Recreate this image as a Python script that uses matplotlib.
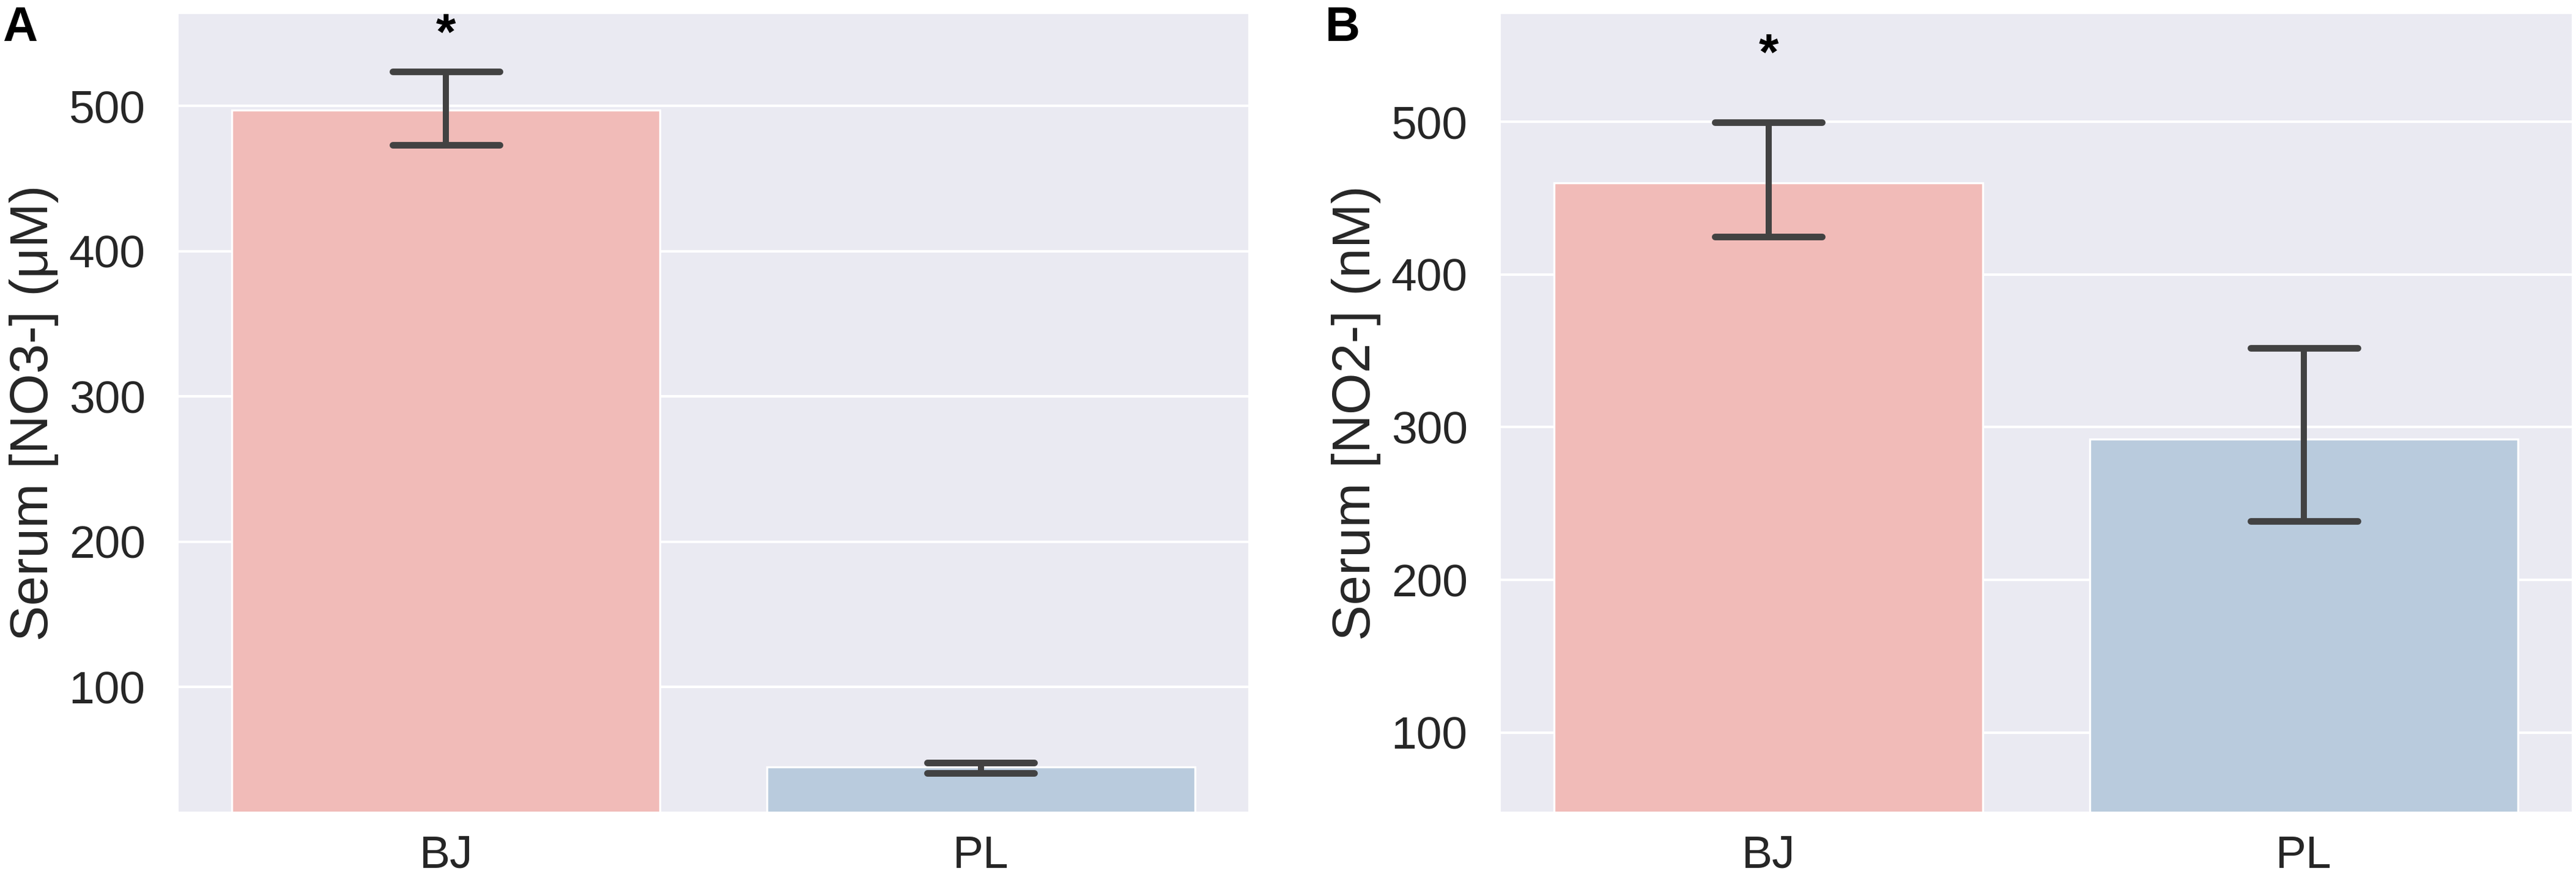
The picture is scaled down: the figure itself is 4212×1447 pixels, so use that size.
import matplotlib
matplotlib.use("Agg")
import matplotlib.pyplot as plt
import numpy as np

# data
groups = ["BJ", "PL"]

no3_mean = [497, 45]
no3_low = [473, 40.7]
no3_high = [523.5, 47.8]

no2_mean = [460, 292]
no2_low = [424.7, 238.7]
no2_high = [499.6, 351.7]

ylabels = ["Serum [NO3-] (\u03bcM)", "Serum [NO2-] (nM)"]
yticks_list = [[100, 200, 300, 400, 500], [100, 200, 300, 400, 500]]
ylims = [(14.1, 563.2), (48.3, 570.5)]
star_y = [548, 543]
panel_tags = ["A", "B"]

bar_colors = ["#F1BBB8", "#B9CBDD"]
err_color = "#424242"

plt.rcParams["font.family"] = ["Liberation Sans", "DejaVu Sans"]

fig = plt.figure(figsize=(4212 / 300, 1447 / 300), dpi=300)
ax_a = fig.add_axes([0.0693, 0.0829, 0.4153, 0.9012])
ax_b = fig.add_axes([0.5826, 0.0829, 0.4157, 0.9012])

panels = [
    (ax_a, no3_mean, no3_low, no3_high),
    (ax_b, no2_mean, no2_low, no2_high),
]

for i, (ax, mean, low, high) in enumerate(panels):
    x = np.arange(len(groups))
    ax.set_facecolor("#EAEAF2")
    for s in ax.spines.values():
        s.set_visible(False)
    ax.yaxis.grid(True, color="white", linewidth=1.0, zorder=0)
    ax.xaxis.grid(False)
    ax.set_axisbelow(True)

    ax.bar(x, mean, width=0.8, color=bar_colors, edgecolor="white",
           linewidth=0.8, zorder=2)

    # error bars: stem + caps
    ax.vlines(x, low, high, color=err_color, linewidth=2.4, zorder=3)
    ax.hlines(low, x - 0.1, x + 0.1, color=err_color, linewidth=2.6,
              capstyle="round", zorder=3)
    ax.hlines(high, x - 0.1, x + 0.1, color=err_color, linewidth=2.6,
              capstyle="round", zorder=3)

    ax.text(0, star_y[i], "*", ha="center", va="center", fontsize=20,
            fontweight="bold", color="black", zorder=4)

    ax.set_xlim(-0.5, 1.5)
    ax.set_ylim(*ylims[i])
    ax.set_xticks(x)
    ax.set_xticklabels(groups)
    ax.set_yticks(yticks_list[i])
    ax.tick_params(axis="both", length=0, labelsize=18, colors="#262626")
    ax.tick_params(axis="y", pad=13)
    ax.tick_params(axis="x", pad=9)
    ax.set_ylabel(ylabels[i], fontsize=21, color="#262626", labelpad=4)

fig.text(0.001, 0.994, panel_tags[0], fontsize=19, fontweight="bold",
         ha="left", va="top")
fig.text(0.5145, 0.994, panel_tags[1], fontsize=19, fontweight="bold",
         ha="left", va="top")

fig.savefig("out.png", dpi=300, facecolor="white")
